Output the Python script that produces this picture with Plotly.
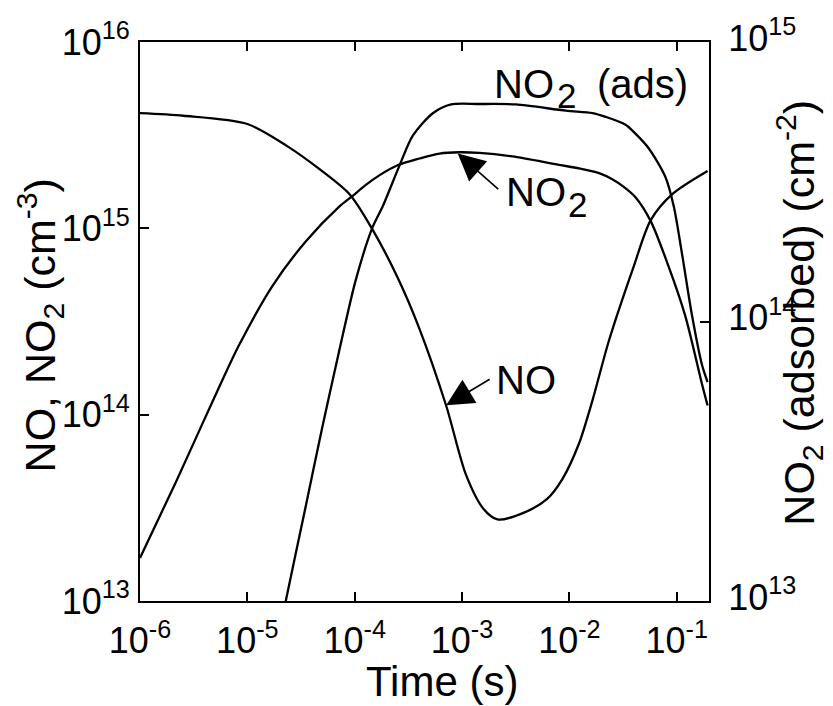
import plotly.graph_objects as go

# ---------------- data ----------------
no_t = [1.0e-6, 2.54e-6, 1.0e-5, 2.33e-5, 4.74e-5, 9.0e-5, 1.45e-4, 2.51e-4, 3.94e-4,
        7.11e-4, 1.09e-3, 1.58e-3, 2.14e-3, 3.88e-3, 6.21e-3, 8.61e-3, 1.23e-2,
        1.64e-2, 2.34e-2, 3.98e-2, 5.7e-2, 9.04e-2, 0.194]
no_v = [4.15e15, 4.02e15, 3.63e15, 2.77e15, 2.07e15, 1.52e15, 9.96e14, 5.45e14, 2.97e14,
        1.12e14, 4.75e13, 3.13e13, 2.74e13, 3.0e13, 3.53e13, 4.51e13, 7.0e13,
        1.19e14, 2.5e14, 6.25e14, 1.1e15, 1.52e15, 2.03e15]

no2_t = [1.0e-6, 2.14e-6, 3.8e-6, 5.6e-6, 8.4e-6, 1.71e-5, 3.5e-5, 7.1e-5, 9.4e-5,
         1.27e-4, 1.71e-4, 2.51e-4, 4.02e-4, 6.17e-4, 9.46e-4, 1.45e-3, 2.95e-3,
         8.0e-3, 1.23e-2, 1.89e-2, 2.49e-2, 3.21e-2, 4.13e-2, 5.7e-2, 8.4e-2, 0.12,
         0.172, 0.194]
no2_v = [1.7e13, 4.3e13, 8.9e13, 1.45e14, 2.37e14, 4.9e14, 8.5e14, 1.3e15, 1.48e15,
         1.71e15, 1.93e15, 2.18e15, 2.37e15, 2.52e15, 2.56e15, 2.54e15, 2.43e15,
         2.19e15, 2.1e15, 1.98e15, 1.84e15, 1.67e15, 1.47e15, 1.1e15, 6.25e14, 3.4e14,
         1.46e14, 1.12e14]

ads_t = [1.9e-5, 2.28e-5, 3.49e-5, 4.97e-5, 7.11e-5, 1.02e-4, 1.45e-4, 1.84e-4, 2.62e-4,
         3.48e-4, 5.35e-4, 7.92e-4, 1.45e-3, 3.18e-3, 9.27e-3, 1.64e-2, 2.18e-2,
         3.34e-2, 4.13e-2, 5.5e-2, 7.85e-2, 9.4e-2, 0.112, 0.139, 0.172, 0.194]
ads_v = [7.0e12, 1.0e13, 2.17e13, 4.15e13, 7.73e13, 1.4e14, 2.15e14, 2.6e14, 3.62e14,
         4.62e14, 5.56e14, 5.98e14, 6.0e14, 5.98e14, 5.68e14, 5.57e14, 5.4e14,
         5.06e14, 4.7e14, 4.16e14, 3.29e14, 2.58e14, 1.75e14, 1.05e14, 7.0e13, 6.07e13]

x_ticks = [1e-6, 1e-5, 1e-4, 1e-3, 1e-2, 1e-1]
x_labels = ["10<sup>-6</sup>", "10<sup>-5</sup>", "10<sup>-4</sup>",
            "10<sup>-3</sup>", "10<sup>-2</sup>", "10<sup>-1</sup>"]
y_ticks = [1e13, 1e14, 1e15, 1e16]
y_labels = ["10<sup>13</sup>", "10<sup>14</sup>", "10<sup>15</sup>", "10<sup>16</sup>"]
y2_ticks = [1e13, 1e14, 1e15]
y2_labels = ["10<sup>13</sup>", "10<sup>14</sup>", "10<sup>15</sup>"]

FONT = "Liberation Sans, Arial, sans-serif"
W, H = 833, 706
L, R, T, B = 140, 124, 31, 105

fig = go.Figure()
line = dict(color="black", width=2.3, shape="spline", smoothing=0.8)
fig.add_trace(go.Scatter(x=no_t, y=no_v, mode="lines", line=line, name="NO"))
fig.add_trace(go.Scatter(x=no2_t, y=no2_v, mode="lines", line=line, name="NO2"))
fig.add_trace(go.Scatter(x=ads_t, y=ads_v, mode="lines", line=line, name="NO2 (ads)",
                         yaxis="y2"))

axcommon = dict(type="log", showgrid=False, zeroline=False, showline=True,
                linecolor="black", linewidth=2, ticks="inside", ticklen=9,
                tickwidth=2, tickcolor="black", tickmode="array",
                tickfont=dict(family=FONT, size=36, color="black"))

fig.update_layout(
    width=W, height=H, margin=dict(l=L, r=R, t=T, b=B),
    paper_bgcolor="white", plot_bgcolor="white", showlegend=False,
    font=dict(family=FONT, color="black"),
    xaxis=dict(axcommon, range=[-6, -0.699], tickvals=x_ticks, ticktext=x_labels,
               mirror="ticks", ticklabelstandoff=7),
    yaxis=dict(axcommon, range=[13, 16], tickvals=y_ticks, ticktext=y_labels,
               ticklabelstandoff=1),
    yaxis2=dict(axcommon, range=[13, 15], tickvals=y2_ticks, ticktext=y2_labels,
                overlaying="y", side="right", ticklabelstandoff=10,
                ticklabelshift=-4),
)

pw = W - L - R
ph = H - T - B
def px(x):
    return (x - L) / pw
def py(y):
    return (H - B - y) / ph

tfont = dict(family=FONT, size=42, color="black")
tfont_y = dict(family=FONT, size=43, color="black")
afont = dict(family=FONT, size=40, color="black")
sfont = dict(family=FONT, size=35, color="black")

def label(text, x, y, font):
    fig.add_annotation(xref="paper", yref="paper", x=px(x), y=py(y), text=text,
                       showarrow=False, font=font, xanchor="left", yanchor="middle",
                       borderpad=0)

# axis titles
fig.add_annotation(xref="paper", yref="paper", x=px(442), y=py(683),
                   text="Time (s)", showarrow=False, font=tfont, borderpad=0,
                   xanchor="center", yanchor="middle")
fig.add_annotation(xref="paper", yref="paper", x=px(40), y=py(320),
                   text="NO, NO<sub>2</sub> (cm<sup>-3</sup>)", showarrow=False,
                   font=tfont_y, textangle=-90, xanchor="center", yanchor="middle")
fig.add_annotation(xref="paper", yref="paper", x=px(799), y=py(307),
                   text="NO<sub>2</sub> (adsorbed) (cm<sup>-2</sup>)", showarrow=False,
                   font=tfont_y, textangle=-90, xanchor="center", yanchor="middle")

# curve labels (subscript digits drawn as separate, lowered text)
label("NO", 493, 74, afont)
label("2", 556, 86, sfont)
label("(ads)", 596, 74, afont)

label("NO", 505, 184, afont)
label("2", 567, 197, sfont)

label("NO", 495, 376, afont)

# arrows
fig.add_annotation(xref="x", yref="y", x=-3.04, y=15.402, ax=42, ay=37,
                   axref="pixel", ayref="pixel", text="", showarrow=True,
                   arrowhead=2, arrowsize=3.4, arrowwidth=1.6, arrowcolor="black")
fig.add_annotation(xref="x", yref="y", x=-3.148, y=14.05, ax=45, ay=-27,
                   axref="pixel", ayref="pixel", text="", showarrow=True,
                   arrowhead=2, arrowsize=3.4, arrowwidth=1.6, arrowcolor="black")

fig.write_html("out.html")
